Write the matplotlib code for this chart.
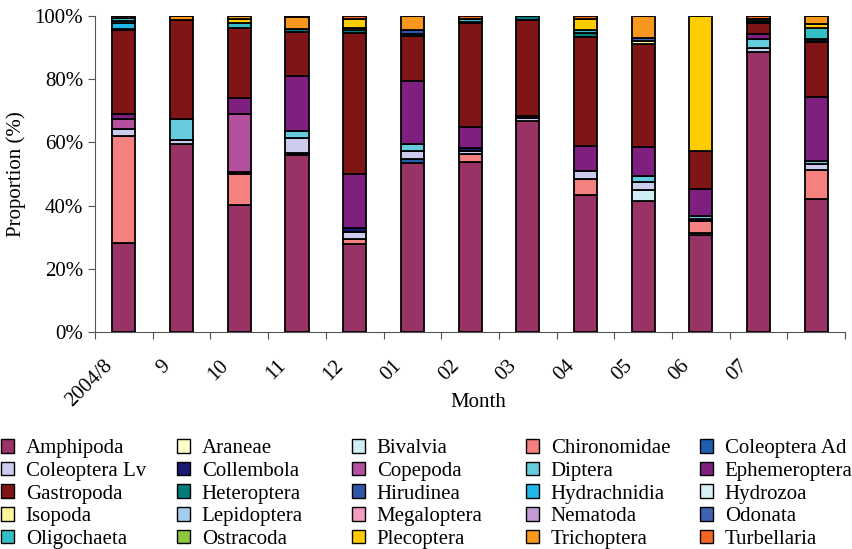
import numpy as np
import matplotlib.pyplot as plt
from matplotlib.patches import Patch

plt.rcParams['font.family'] = ['Liberation Serif', 'DejaVu Serif']

months = ['2004/8', '9', '10', '11', '12', '01', '02', '03', '04', '05', '06', '07', '']

# proportion (%) of each taxon per monthly sample
amphipoda = [28.1, 59.5, 40.1, 56.0, 27.8, 53.4, 53.9, 66.8, 43.4, 41.6, 30.7, 88.7, 42.0]
araneae = [0, 0, 0, 0, 0, 0, 0, 0, 0, 0, 0, 0, 0]
bivalvia = [0, 0, 0, 0, 0, 0, 0, 0, 0, 3.3, 0.7, 0, 0]
chironomidae = [33.9, 0, 9.9, 0, 1.6, 0, 2.4, 0, 5.0, 0, 3.8, 0, 9.3]
coleoptera_ad = [0, 0, 0, 0.5, 0, 1.3, 0, 0, 0, 0, 0, 0, 0]
coleoptera_lv = [2.1, 1.3, 0, 5.0, 2.3, 2.7, 1.1, 0.8, 2.5, 2.5, 0, 1.1, 1.9]
collembola = [0, 0, 0.7, 0, 1.2, 0, 0.9, 0, 0, 0, 0.6, 0, 0]
copepoda = [3.3, 0, 18.3, 0, 0, 0, 0, 0, 0, 0, 0, 0, 0]
diptera = [0, 6.6, 0, 2.1, 0, 2.1, 0, 0, 0, 2.1, 0.9, 2.8, 0.8]
ephemeroptera = [1.5, 0, 5.0, 17.4, 17.1, 19.9, 6.7, 0.9, 8.1, 9.1, 8.6, 1.6, 20.5]
gastropoda = [26.7, 31.3, 22.1, 14.0, 44.5, 14.3, 32.7, 30.2, 34.3, 32.5, 12.1, 3.5, 17.1]
heteroptera = [0.4, 0, 0, 0.8, 1.2, 0.7, 0.5, 1.3, 1.2, 0, 0, 0.6, 0.4]
hirudinea = [0, 0, 0, 0, 0, 1.0, 0, 0, 0, 0, 0, 0, 0]
hydrachnidia = [1.7, 0, 0, 0, 0, 0, 0, 0, 0, 0, 0, 0, 0.7]
hydrozoa = [0.6, 0, 0, 0, 0, 0, 0, 0, 0, 0, 0, 0, 0]
isopoda = [0, 0, 0, 0, 0.4, 0, 0, 0, 0, 0.9, 0, 0, 0]
lepidoptera = [0, 0, 0, 0, 0, 0, 0, 0, 0, 0, 0, 0, 0]
megaloptera = [0, 0, 0, 0, 0, 0, 0, 0, 0, 0, 0, 0, 0]
nematoda = [0, 0, 0, 0, 0, 0, 0, 0, 0, 0, 0, 0, 0]
odonata = [0, 0, 0, 0, 0, 0, 0, 0, 0, 0.9, 0, 0, 0]
oligochaeta = [0.9, 0, 1.6, 0, 0, 0, 0.8, 0, 1.1, 0, 0, 0.8, 3.4]
ostracoda = [0, 0, 0, 0, 0, 0, 0, 0, 0, 0, 0, 0, 0]
plecoptera = [0, 0, 1.4, 0, 2.9, 0, 0, 0, 3.5, 0, 42.6, 0, 1.4]
trichoptera = [0.8, 1.3, 0.9, 3.8, 0, 4.6, 0, 0, 0, 7.1, 0, 0, 2.5]
turbellaria = [0, 0, 0, 0.4, 1.0, 0, 1.0, 0, 0.9, 0, 0, 0.9, 0]

taxa = [
    ('Amphipoda', amphipoda, '#993366'),
    ('Araneae', araneae, '#FFFFCC'),
    ('Bivalvia', bivalvia, '#CFEFF5'),
    ('Chironomidae', chironomidae, '#F58080'),
    ('Coleoptera Ad', coleoptera_ad, '#1F5FB0'),
    ('Coleoptera Lv', coleoptera_lv, '#CCCCEE'),
    ('Collembola', collembola, '#1A1A70'),
    ('Copepoda', copepoda, '#B5509E'),
    ('Diptera', diptera, '#66CCDD'),
    ('Ephemeroptera', ephemeroptera, '#7F2080'),
    ('Gastropoda', gastropoda, '#801515'),
    ('Heteroptera', heteroptera, '#007A78'),
    ('Hirudinea', hirudinea, '#2F56A8'),
    ('Hydrachnidia', hydrachnidia, '#22B5E8'),
    ('Hydrozoa', hydrozoa, '#D6F0F5'),
    ('Isopoda', isopoda, '#FFF59A'),
    ('Lepidoptera', lepidoptera, '#A5CDF0'),
    ('Megaloptera', megaloptera, '#F59AC0'),
    ('Nematoda', nematoda, '#C39BD3'),
    ('Odonata', odonata, '#4060B0'),
    ('Oligochaeta', oligochaeta, '#33BFC4'),
    ('Ostracoda', ostracoda, '#8DC63F'),
    ('Plecoptera', plecoptera, '#FFCC00'),
    ('Trichoptera', trichoptera, '#F7971E'),
    ('Turbellaria', turbellaria, '#F26522'),
]

fig = plt.figure(figsize=(8.52, 5.49), dpi=100)
ax = fig.add_axes([0.1115, 0.395, 0.8805, 0.576])

x = np.arange(len(months)) + 0.5
bottom = np.zeros(len(months))
for name, vals, color in taxa:
    vals = np.array(vals, dtype=float)
    ax.bar(x, vals, width=0.4, bottom=bottom, color=color,
           edgecolor='black', linewidth=1.3, label=name)
    bottom += vals

ax.set_xlim(0, len(months))
ax.set_ylim(0, 100)
ax.set_yticks(range(0, 101, 20))
ax.set_yticklabels([f'{v}%' for v in range(0, 101, 20)], fontsize=15)
ax.set_xticks(np.arange(len(months) + 1))
ax.set_xticklabels([])
ax.tick_params(axis='both', direction='out', length=5, width=0.8, color='#555555')
# month labels sit just left of each bar, slanted like the spreadsheet original
for xi, lab in zip(x, months):
    ax.text(xi - 0.24, -9.8, lab, rotation=45, ha='right', va='center',
            rotation_mode='anchor', fontsize=15)

for side in ['top', 'right']:
    ax.spines[side].set_visible(False)
ax.spines['left'].set_color('#555555')
ax.spines['bottom'].set_color('#555555')

ax.set_ylabel('Proportion (%)', fontsize=15, labelpad=6)
fig.text(0.561, 0.266, 'Month', ha='center', va='center', fontsize=15)

handles = [Patch(facecolor=c, edgecolor='black', linewidth=1.0) for _, _, c in taxa]
names = [n for n, _, _ in taxa]
col_x = [0.0016, 0.2082, 0.4136, 0.6178, 0.8221]
for c in range(5):
    fig.legend(handles[c::5], names[c::5], loc='upper left',
               bbox_to_anchor=(col_x[c], 0.2000), frameon=False, fontsize=15,
               handlelength=0.62, handleheight=0.62, handletextpad=0.55,
               labelspacing=0.17, borderpad=0.0, borderaxespad=0.0)

fig.savefig('out.png', dpi=100)
